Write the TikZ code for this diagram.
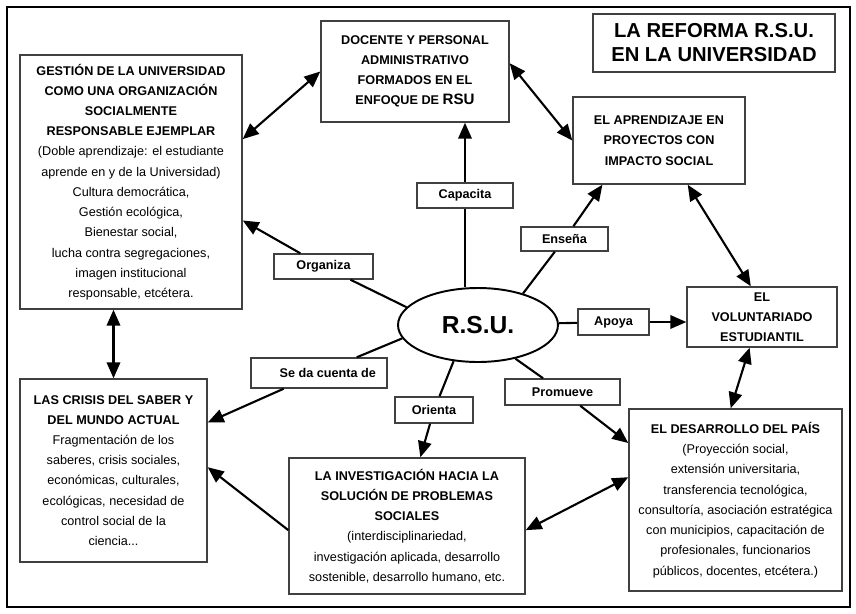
\documentclass[tikz,border=0pt]{standalone}
\usepackage{fontspec}
\setmainfont{Liberation Sans}
\usetikzlibrary{arrows.meta,shapes.geometric}
\newcommand{\boxtext}{\fontsize{7.2}{11.5}\selectfont}

\begin{document}
\begin{tikzpicture}[x=0.02cm, y=-0.02cm,
    box/.style={draw=black!75, line width=0.8pt, align=center, inner sep=0pt, font=\boxtext},
    dims/.style 2 args={minimum width=#1*0.02cm, minimum height=#2*0.02cm},
    verbbox/.style={box, font=\boxtext\bfseries},
    link/.style={line width=1.2pt},
    arr/.style={link, -{Triangle[length=0.32cm, width=0.27cm]}},
    dbl/.style={link, {Triangle[length=0.32cm, width=0.27cm]}-{Triangle[length=0.32cm, width=0.27cm]}}
]
    \useasboundingbox (0,0) rectangle (856,613);
    \draw[line width=1.5pt] (7,7) rectangle (850,607);

    % Title
    \node[box, dims={242}{58}, font=\fontsize{11.5}{13.7}\selectfont\bfseries] (title) at (714,43)
        {LA REFORMA R.S.U.\\ EN LA UNIVERSIDAD};

    % Centre
    \node[draw, ellipse, line width=1.1pt, minimum width=3.2cm, minimum height=1.48cm,
        font=\fontsize{14}{16}\selectfont\bfseries] (rsu) at (478,325) {R.S.U.};

    % Boxes
    \node[box, dims={222}{254}] (gestion) at (131,182)
        {\textbf{GESTIÓN DE LA UNIVERSIDAD}\\ \textbf{COMO UNA ORGANIZACIÓN}\\
         \textbf{SOCIALMENTE}\\ \textbf{RESPONSABLE EJEMPLAR}\\
         (Doble aprendizaje: el estudiante\\ aprende en y de la Universidad)\\
         Cultura democrática,\\ Gestión ecológica,\\ Bienestar social,\\
         lucha contra segregaciones,\\ imagen institucional\\ responsable, etcétera.};

    \node[box, dims={188}{101}] (docente) at (415,71.5)
        {\textbf{DOCENTE Y PERSONAL}\\ \textbf{ADMINISTRATIVO}\\ \textbf{FORMADOS EN EL}\\
         \textbf{ENFOQUE DE {\fontsize{8.6}{11.5}\selectfont RSU}}};

    \node[box, dims={172}{87}] (aprend) at (659,140.5)
        {\textbf{EL APRENDIZAJE EN}\\ \textbf{PROYECTOS CON}\\ \textbf{IMPACTO SOCIAL}};

    \node[box, dims={150}{60}] (volunt) at (762,317)
        {\textbf{EL}\\ \textbf{VOLUNTARIADO}\\ \textbf{ESTUDIANTIL}};

    \node[box, dims={213}{182}] (desarr) at (735.5,500)
        {\textbf{EL DESARROLLO DEL PAÍS}\\ (Proyección social,\\ extensión universitaria,\\
         transferencia tecnológica,\\ consultoría, asociación estratégica\\
         con municipios, capacitación de\\ profesionales, funcionarios\\
         públicos, docentes, etcétera.)};

    \node[box, dims={236}{136}] (invest) at (407,526)
        {\textbf{LA INVESTIGACIÓN HACIA LA}\\ \textbf{SOLUCIÓN DE PROBLEMAS}\\ \textbf{SOCIALES}\\
         (interdisciplinariedad,\\ investigación aplicada, desarrollo\\
         sostenible, desarrollo humano, etc.};

    \node[box, dims={187}{183}] (crisis) at (113.5,470.5)
        {\textbf{LAS CRISIS DEL SABER Y}\\ \textbf{DEL MUNDO ACTUAL}\\ Fragmentación de los\\
         saberes, crisis sociales,\\ económicas, culturales,\\ ecológicas, necesidad de\\
         control social de la\\ ciencia...};

    % Verbs
    \node[verbbox, dims={96}{25}] (capacita) at (465,195.5) {Capacita};
    \node[verbbox, dims={87}{24}] (ensena) at (564.5,239) {Enseña};
    \node[verbbox, dims={99}{25}] (organiza) at (323.5,266.5) {Organiza};
    \node[verbbox, dims={71}{26}] (apoya) at (613.5,322) {Apoya};
    \node[verbbox, dims={136}{30}] (secuenta) at (319,373) {\hspace{10pt}Se da cuenta de};
    \node[verbbox, dims={78}{26}] (orienta) at (434,410) {Orienta};
    \node[verbbox, dims={115}{26}] (promueve) at (562.5,392) {Promueve};

    % From the centre
    \draw[link] (capacita.south |- rsu.north) -- (capacita.south);
    \draw[arr] (capacita.north) -- (capacita.north |- docente.south);
    \draw[link] (rsu.35) -- (ensena);
    \draw[arr] (ensena) -- (aprend.218);
    \draw[link] (rsu.166) -- (organiza);
    \draw[arr] (organiza) -- (gestion.341);
    \draw[link] (rsu) -- (apoya);
    \draw[arr] (apoya) -- (apoya -| volunt.west);
    \draw[link] (rsu.190) -- (secuenta);
    \draw[arr] (secuenta) -- (crisis.27);
    \draw[link] (rsu.236) -- (orienta);
    \draw[arr] (orienta) -- (invest.79);
    \draw[link] (rsu.318) -- (promueve);
    \draw[arr] (promueve) -- (desarr.152);

    % Between the boxes
    \draw[dbl] (gestion.21) -- (docente.west);
    \draw[dbl] (docente.5) -- (aprend.west);
    \draw[dbl] (aprend.303) -- (volunt.110);
    \draw[dbl] (volunt.248) -- (desarr.93);
    \draw[dbl] (invest.358) -- (desarr.168);
    \draw[dbl] (crisis.north) -- (crisis.north |- gestion.south);
    \draw[arr] (invest.182) -- (crisis.2);
\end{tikzpicture}
\end{document}
